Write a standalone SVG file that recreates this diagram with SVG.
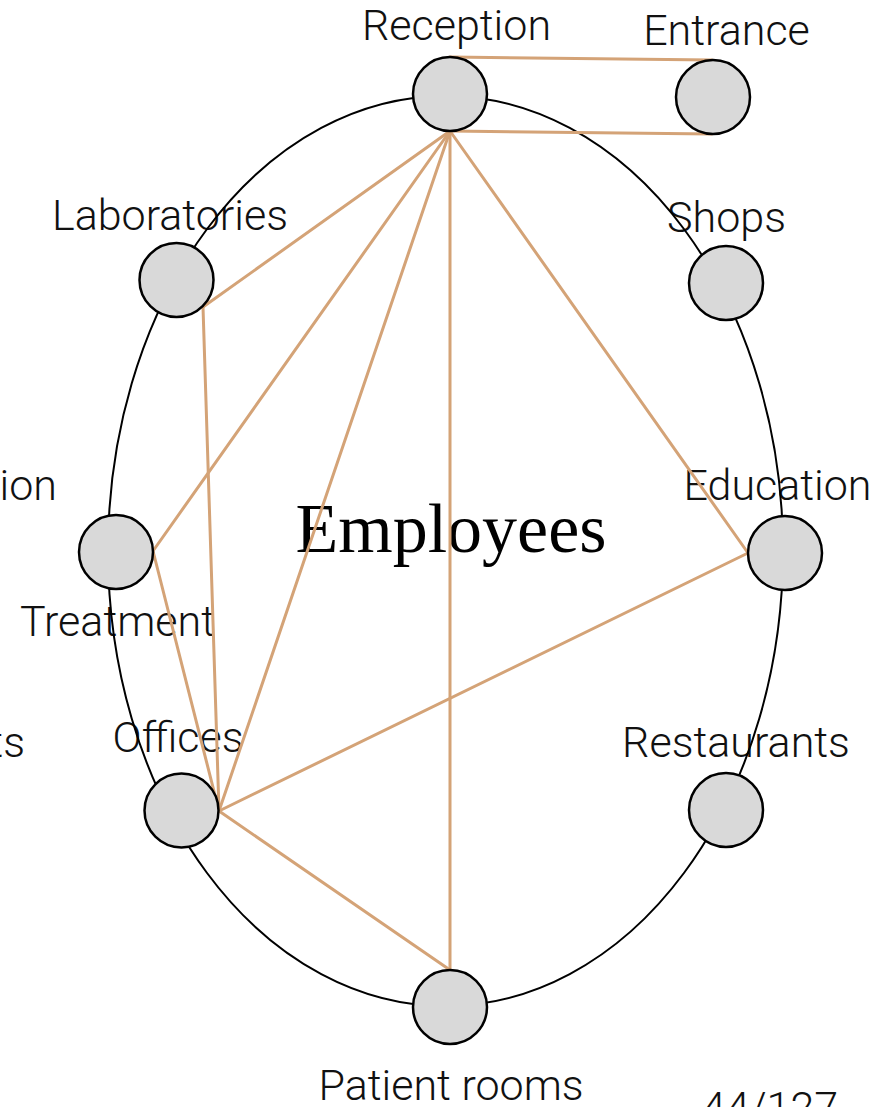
<svg xmlns="http://www.w3.org/2000/svg" width="884" height="1107" viewBox="0 0 884 1107">
  <style>
    .lbl { font-family: Roboto, "Liberation Sans", sans-serif; font-weight: 300; font-size: 43px; fill: #111; text-anchor: middle; }
    .title { font-family: "Liberation Serif", "DejaVu Serif", serif; font-size: 70px; fill: #000; text-anchor: middle; }
    .node { fill: #D9D9D9; stroke: #000; stroke-width: 2.5; }
    .edge { stroke: #D4A377; stroke-width: 3; fill: none; stroke-linecap: round; }
    .ring { fill: none; stroke: #000; stroke-width: 2; }
  </style>
  <rect width="884" height="1107" fill="#fff"/>
  <g id="labels">
    <text class="title" x="451" y="552">Employees</text>
    <text class="lbl" x="456.5" y="40">Reception</text>
    <text class="lbl" x="726.5" y="45">Entrance</text>
    <text class="lbl" x="170" y="230">Laboratories</text>
    <text class="lbl" x="726.5" y="232">Shops</text>
    <text class="lbl" x="57" y="500" style="text-anchor:end">ion</text>
    <text class="lbl" x="777.5" y="500">Education</text>
    <text class="lbl" x="117.5" y="636">Treatment</text>
    <text class="lbl" x="25" y="757" style="text-anchor:end">ts</text>
    <text class="lbl" x="178" y="752">Offices</text>
    <text class="lbl" x="736" y="757">Restaurants</text>
    <text class="lbl" x="451" y="1100">Patient rooms</text>
    <text class="lbl" x="770" y="1122">44/127</text>
  </g>
  <ellipse class="ring" cx="445.5" cy="551" rx="337.5" ry="455"/>
  <g id="connectors">
    <line class="edge" x1="450" y1="57" x2="712" y2="60"/>
    <line class="edge" x1="450" y1="131" x2="712" y2="134"/>
    <line class="edge" x1="450" y1="131" x2="203" y2="307"/>
    <line class="edge" x1="450" y1="131" x2="153" y2="551"/>
    <line class="edge" x1="450" y1="131" x2="219" y2="811"/>
    <line class="edge" x1="450" y1="131" x2="450" y2="970"/>
    <line class="edge" x1="450" y1="131" x2="748" y2="553"/>
    <line class="edge" x1="203" y1="307" x2="219" y2="811"/>
    <line class="edge" x1="153" y1="551" x2="219" y2="811"/>
    <line class="edge" x1="748" y1="553" x2="219" y2="811"/>
    <line class="edge" x1="219" y1="811" x2="450" y2="970"/>
  </g>
  <g id="n-reception"><circle class="node" cx="450" cy="94" r="37"/></g>
  <g id="n-entrance"><circle class="node" cx="713" cy="97" r="37"/></g>
  <g id="n-laboratories"><circle class="node" cx="176.5" cy="280" r="37"/></g>
  <g id="n-shops"><circle class="node" cx="726" cy="283" r="37"/></g>
  <g id="n-treatment"><circle class="node" cx="116" cy="552" r="37"/></g>
  <g id="n-education"><circle class="node" cx="785" cy="553" r="37"/></g>
  <g id="n-offices"><circle class="node" cx="181.5" cy="810.5" r="37"/></g>
  <g id="n-restaurants"><circle class="node" cx="726" cy="810" r="37"/></g>
  <g id="n-patient-rooms"><circle class="node" cx="450" cy="1007" r="37"/></g>
</svg>
